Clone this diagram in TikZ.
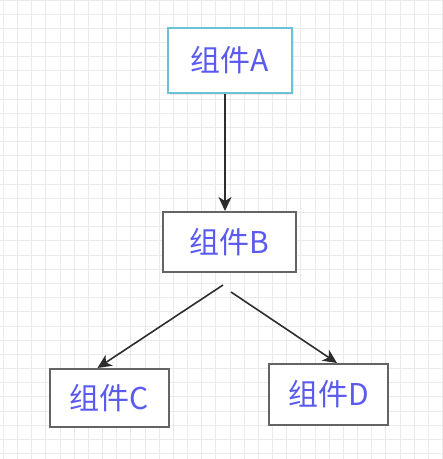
\documentclass[tikz,border=0pt]{standalone}
\usepackage{fontspec}
\newfontfamily\cjk{Noto Sans CJK SC}
\usetikzlibrary{arrows.meta,shadows}

\definecolor{gridgray}{RGB}{234,234,234}
\definecolor{boxgray}{RGB}{100,100,100}
\definecolor{boxcyan}{RGB}{105,195,215}
\definecolor{labelblue}{RGB}{90,90,240}
\definecolor{arrowgray}{RGB}{45,45,45}

\tikzset{
	part/.style={draw=boxgray, line width=2pt, fill=white, rectangle, inner sep=0pt,
		font=\cjk\fontsize{30}{34}\selectfont, text=labelblue},
	link/.style={draw=arrowgray, line width=1.6pt, -{Stealth[length=14pt,width=13pt,inset=4pt]}}
}

\begin{document}
\begin{tikzpicture}[x=1pt, y=-1pt]
	\useasboundingbox (0, 0) rectangle (443, 459);
	\foreach \i in {0,...,31}
		\draw[gridgray, line width=0.8pt] (3.3+14.17*\i, 0) -- (3.3+14.17*\i, 459);
	\foreach \j in {0,...,32}
		\draw[gridgray, line width=0.8pt] (0, 14.17*\j) -- (443, 14.17*\j);

	\node[part, draw=boxcyan, line width=2.5pt, minimum width=124pt, minimum height=65pt,
		drop shadow={opacity=0.15, shadow xshift=2pt, shadow yshift=-2pt}] (A) at (230, 60.5) {组件A};
	\node[part, minimum width=133pt, minimum height=60pt] (B) at (229.5, 242) {组件B};
	\node[part, minimum width=119pt, minimum height=58pt] (C) at (109.5, 398) {组件C};
	\node[part, minimum width=119pt, minimum height=61pt] (D) at (328.5, 394.5) {组件D};

	\coordinate (bl) at ([shift={(-6.5, 12)}]B.south);
	\coordinate (br) at ([shift={(1.5, 19)}]B.south);

	\draw[link] ([xshift=-5pt]A.south) -- ([xshift=-4.5pt]B.north);
	\draw[link] (bl) -- ([xshift=-12pt]C.north);
	\draw[link] (br) -- ([xshift=8.5pt]D.north);
\end{tikzpicture}
\end{document}
